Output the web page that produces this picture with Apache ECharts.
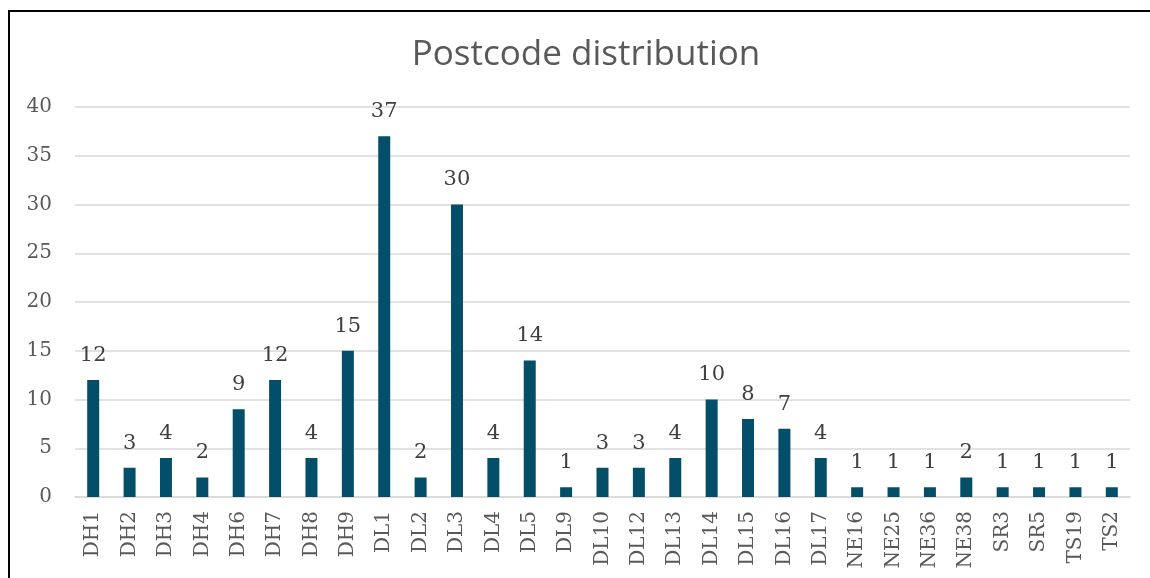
<!DOCTYPE html>
<html>
<head>
<meta charset="utf-8">
<script src="https://cdn.jsdelivr.net/npm/echarts@6/dist/echarts.min.js"></script>
<style>
  html, body { margin: 0; padding: 0; background: #fff; }
  #main { width: 1150px; height: 578px; }
</style>
</head>
<body>
<div id="main"></div>
<script>
const postcodes = [
  "DH1", "DH2", "DH3", "DH4", "DH6", "DH7", "DH8", "DH9",
  "DL1", "DL2", "DL3", "DL4", "DL5", "DL9", "DL10", "DL12", "DL13",
  "DL14", "DL15", "DL16", "DL17",
  "NE16", "NE25", "NE36", "NE38", "SR3", "SR5", "TS19", "TS2"
];
const counts = [
  12, 3, 4, 2, 9, 12, 4, 15,
  37, 2, 30, 4, 14, 1, 3, 3, 4,
  10, 8, 7, 4,
  1, 1, 1, 2, 1, 1, 1, 1
];

const chartDom = document.getElementById("main");
const myChart = echarts.init(chartDom);

const serif = "'DejaVu Serif', 'Liberation Serif', serif";

const option = {
  animation: false,
  title: {
    text: "Postcode distribution",
    left: 581,
    top: 33,
    textAlign: "center",
    textStyle: {
      fontFamily: "'Open Sans', 'Noto Sans', sans-serif",
      fontSize: 35,
      fontWeight: "normal",
      color: "#595959"
    }
  },
  graphic: [
    {
      type: "rect",
      shape: { x: 9, y: 11, width: 1160, height: 600 },
      style: { fill: null, stroke: "#000", lineWidth: 2 },
      silent: true
    }
  ],
  grid: { left: 75, right: 20, top: 107, bottom: 81 },
  xAxis: {
    type: "category",
    data: postcodes,
    axisTick: { show: false },
    axisLine: { lineStyle: { color: "#d9d9d9", width: 1.5 } },
    axisLabel: {
      rotate: 90,
      interval: 0,
      margin: 14,
      fontFamily: serif,
      fontSize: 20,
      color: "#595959"
    }
  },
  yAxis: {
    type: "value",
    min: 0,
    max: 40,
    interval: 5,
    axisLine: { show: false },
    axisTick: { show: false },
    axisLabel: {
      margin: 23,
      fontFamily: serif,
      fontSize: 20,
      color: "#595959"
    },
    splitLine: { lineStyle: { color: "#d9d9d9", width: 1.5 } }
  },
  series: [
    {
      type: "bar",
      data: counts,
      barWidth: 12,
      itemStyle: { color: "#034f69" },
      label: {
        show: true,
        position: "top",
        distance: 14,
        fontFamily: serif,
        fontSize: 21,
        color: "#404040"
      }
    }
  ]
};

option && myChart.setOption(option);
</script>
</body>
</html>
